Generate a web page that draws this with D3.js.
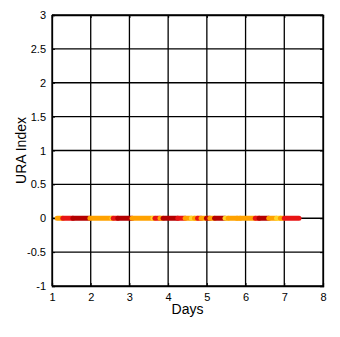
<!DOCTYPE html>
<html>
<head>
<meta charset="utf-8">
<script src="https://cdn.jsdelivr.net/npm/d3@7"></script>
<style>
  body { margin: 0; background: #fff; }
  text { font-family: Arial, "Liberation Sans", sans-serif; }
</style>
</head>
<body>
<div id="chart"></div>
<script>
var width = 340;
var height = 337;
var margin = {top: 15, right: 17, bottom: 51, left: 52};

// x ticks (days) and y ticks (URA index)
var xTicks = [1, 2, 3, 4, 5, 6, 7, 8];
var yTicks = [-1, -0.5, 0, 0.5, 1, 1.5, 2, 2.5, 3];

// runs of markers along URA = 0 : start day, end day, level
var runStart = [1.13, 1.28, 1.54, 1.98, 2.55, 2.58, 2.70, 3.07, 3.61, 3.66, 3.79, 3.87, 4.25, 4.44, 4.60, 4.68, 4.76, 4.85, 4.99, 5.08, 5.20, 5.47, 5.55, 5.78, 5.86, 6.25, 6.35, 6.60, 6.80, 6.90, 7.00];
var runEnd   = [1.28, 1.54, 1.98, 2.55, 2.58, 2.70, 3.07, 3.61, 3.66, 3.79, 3.87, 4.25, 4.44, 4.60, 4.68, 4.76, 4.85, 4.99, 5.08, 5.20, 5.47, 5.55, 5.78, 5.86, 6.25, 6.35, 6.60, 6.80, 6.90, 6.98, 7.38];
var runLevel = ['o', 'r', 'd', 'o', 'y', 'r', 'd', 'o', 'y', 'r', 'o', 'd', 'r', 'o', 'y', 'o', 'r', 'o', 'd', 'o', 'd', 'y', 'o', 'o', 'o', 'r', 'd', 'o', 'y', 'o', 'r'];
var runValue = 0;

var levelColor = {d: '#b40000', r: '#e81414', o: '#ffa200', y: '#ffd62a'};

var w = width - margin.left - margin.right;
var h = height - margin.top - margin.bottom;

var svg = d3.select('#chart')
            .append('svg')
            .attr('width', width)
            .attr('height', height);

var g = svg.append('g')
           .attr('transform', `translate(${margin.left},${margin.top})`);

var x = d3.scaleLinear().domain([1, 8]).range([0, w]);
var y = d3.scaleLinear().domain([-1, 3]).range([h, 0]);

// grid
g.selectAll('.vgrid')
 .data(xTicks)
 .enter()
 .append('line')
 .attr('x1', d => x(d)).attr('x2', d => x(d))
 .attr('y1', 0).attr('y2', h)
 .attr('stroke', '#000')
 .attr('stroke-width', 1.3);

g.selectAll('.hgrid')
 .data(yTicks)
 .enter()
 .append('line')
 .attr('x1', 0).attr('x2', w)
 .attr('y1', d => y(d)).attr('y2', d => y(d))
 .attr('stroke', '#000')
 .attr('stroke-width', 1.3);

// marker runs
g.selectAll('.run')
 .data(runStart)
 .enter()
 .append('line')
 .attr('x1', (d, i) => x(d))
 .attr('x2', (d, i) => x(runEnd[i]))
 .attr('y1', y(runValue))
 .attr('y2', y(runValue))
 .attr('stroke', (d, i) => levelColor[runLevel[i]])
 .attr('stroke-width', 5)
 .attr('stroke-linecap', 'round');

// axes
var xAxis = d3.axisBottom(x).tickValues(xTicks).tickSize(-3).tickPadding(7).tickFormat(d3.format('d'));
var yAxis = d3.axisLeft(y).tickValues(yTicks).tickSize(-3).tickPadding(6).tickFormat(d => d);

g.append('g')
 .attr('transform', `translate(0,${h})`)
 .call(xAxis);
g.append('g').call(yAxis);

g.append('g').attr('transform', `translate(${w},0)`)
 .call(d3.axisRight(y).tickValues(yTicks).tickSize(-3).tickFormat(''));
g.append('g')
 .call(d3.axisTop(x).tickValues(xTicks).tickSize(-3).tickFormat(''));

g.selectAll('.domain').attr('stroke', '#000').attr('stroke-width', 1.3);
g.selectAll('.tick line').attr('stroke', '#000');
g.selectAll('.tick text').attr('font-size', 11).attr('fill', '#000')
 .attr('font-family', 'Arial, "Liberation Sans", sans-serif');

// labels
svg.append('text')
   .attr('x', margin.left + w / 2)
   .attr('y', 314)
   .attr('text-anchor', 'middle')
   .attr('font-size', 14)
   .text('Days');

svg.append('text')
   .attr('transform', 'rotate(-90)')
   .attr('x', -(margin.top + h / 2))
   .attr('y', 26)
   .attr('text-anchor', 'middle')
   .attr('font-size', 14)
   .text('URA Index');
</script>
</body>
</html>
